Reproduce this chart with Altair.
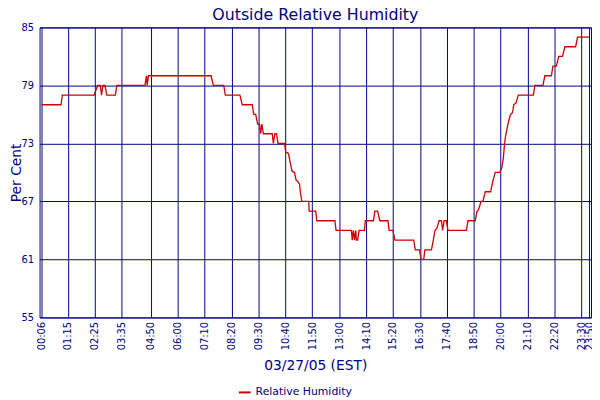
import altair as alt
import pandas as pd

# Sample times (HH:MM) and relative humidity (%)
times = ["00:06", "00:57", "01:00", "02:23", "02:32", "02:39", "02:42", "02:46", "02:51", "02:56",
         "03:18", "03:22", "04:35", "04:39", "04:41", "04:44", "07:27", "07:33", "08:00", "08:04",
         "08:42", "08:48", "09:14", "09:18", "09:23", "09:28", "09:33", "09:36", "09:39", "09:43",
         "10:06", "10:09", "10:13", "10:17", "10:21", "10:38", "10:41", "10:47", "10:49", "10:53",
         "10:58", "11:04", "11:08", "11:12", "11:17", "11:19", "11:23", "11:41", "11:42", "11:59",
         "12:02", "12:49", "12:52", "13:32", "13:34", "13:37", "13:40", "13:43", "13:45", "13:48",
         "13:52", "14:06", "14:08", "14:29", "14:33", "14:40", "14:46", "15:07", "15:10", "15:20",
         "15:25", "16:14", "16:18", "16:29", "16:33", "16:40", "16:43", "17:00", "17:05", "17:09",
         "17:14", "17:20", "17:26", "17:29", "17:33", "17:39", "17:43", "18:31", "18:35", "18:54",
         "18:58", "19:03", "19:09", "19:14", "19:20", "19:34", "19:39", "19:46", "19:58", "20:03",
         "20:07", "20:10", "20:13", "20:17", "20:22", "20:26", "20:31", "20:34", "20:40", "20:46",
         "21:25", "21:29", "21:50", "21:55", "22:12", "22:16", "22:25", "22:31", "22:41", "22:47",
         "23:15", "23:20", "23:50"]
humidity = [77, 77, 78, 78, 79, 79, 78, 79, 79, 78,
            78, 79, 79, 80, 79, 80, 80, 79, 79, 78,
            78, 77, 77, 76, 76, 75, 75, 74, 75, 74,
            74, 73, 74, 74, 73, 73, 72.1, 72, 71.8, 71,
            70.1, 70, 69.2, 69.1, 68.8, 68, 67, 67, 66, 66,
            65, 65, 64, 64, 63, 64, 63, 64, 63, 63,
            64, 64, 65, 65, 66, 66, 65, 65, 64, 64,
            63, 63, 62, 62, 61, 61, 62, 62, 63, 64,
            64.2, 65, 65, 64, 65, 65, 64, 64, 65, 65,
            65.9, 66.2, 67, 67, 68, 68, 69, 70, 70, 70.5,
            71.5, 72.9, 73.8, 74.6, 75.5, 76, 76.2, 77, 77.2, 78,
            78, 79, 79, 80, 80, 81, 81, 82, 82, 83,
            83, 84, 84]
series_name = "Relative Humidity"

x_tick_labels = ["00:06", "01:15", "02:25", "03:35", "04:50", "06:00", "07:10", "08:20", "09:30",
                 "10:40", "11:50", "13:00", "14:10", "15:20", "16:30", "17:40", "18:50", "20:00",
                 "21:10", "22:20", "23:30", "23:50"]
y_ticks = [55, 61, 67, 73, 79, 85]


def to_min(s):
    h, m = s.split(":")
    return int(h) * 60 + int(m)


df = pd.DataFrame({
    "minute": [to_min(t) for t in times],
    "value": humidity,
    "series": series_name,
})
x_tick_values = [to_min(t) for t in x_tick_labels]

NAVY = "#000080"
RED = "#CC0000"
FONT = "DejaVu Sans"

label_expr = ("(floor(datum.value/60)<10?'0':'')+floor(datum.value/60)+':'+"
              "(datum.value%60<10?'0':'')+(datum.value%60)")

chart = alt.Chart(df).mark_line(strokeWidth=1.3, interpolate="linear").encode(
    x=alt.X(
        "minute:Q",
        scale=alt.Scale(domain=[1, 1435], nice=False, zero=False),
        axis=alt.Axis(
            values=x_tick_values, labelExpr=label_expr, labelAngle=270,
            labelAlign="right", labelBaseline="middle", labelPadding=4,
            ticks=False, domain=False, grid=True, gridColor=NAVY, gridOpacity=1,
            gridWidth=1, labelColor=NAVY, labelFont=FONT, labelFontSize=10,
            labelOverlap=False, labelFlush=False, labelBound=False,
            title="03/27/05 (EST)", titleFont=FONT, titleFontSize=14,
            titleFontWeight="normal", titleColor=NAVY, titlePadding=9,
        ),
    ),
    y=alt.Y(
        "value:Q",
        scale=alt.Scale(domain=[55, 85], nice=False, zero=False),
        axis=alt.Axis(
            values=y_ticks, ticks=False, domain=False, grid=True, gridColor=NAVY,
            gridOpacity=1, gridWidth=1, labelColor=NAVY, labelFont=FONT,
            labelFontSize=10, labelPadding=6, labelOverlap=False,
            labelFlush=False, labelBound=False,
            title="Per Cent", titleFont=FONT, titleFontSize=14,
            titleFontWeight="normal", titleColor=NAVY,
            titleBaseline="alphabetic", titleX=-19, titleY=147,
        ),
    ),
    color=alt.Color(
        "series:N",
        scale=alt.Scale(domain=[series_name], range=[RED]),
        title=None,
        legend=alt.Legend(
            orient="none", legendX=201, legendY=363, symbolType="stroke",
            symbolStrokeWidth=2, symbolSize=144, labelFontSize=11,
            labelColor=NAVY, labelFont=FONT, padding=0, labelOffset=4,
        ),
    ),
).properties(
    width=559,
    height=294,
    title=alt.TitleParams(
        "Outside Relative Humidity", fontSize=16, font=FONT, fontWeight="normal",
        color=NAVY, anchor="middle", frame="group", offset=0,
    ),
    autosize=alt.AutoSizeParams(type="none"),
    padding={"left": 32, "top": 17, "right": 1, "bottom": 80},
).configure_view(stroke=NAVY, strokeWidth=1)

chart.save("out.html", embed_options={"renderer": "svg", "actions": False})
